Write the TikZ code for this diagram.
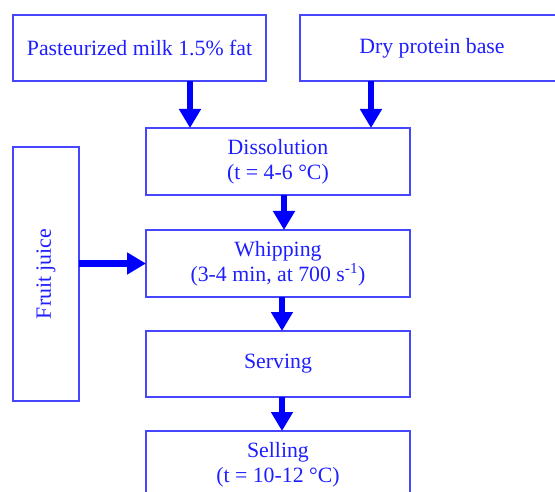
\documentclass[tikz,border=0pt]{standalone}
\usepackage{fontspec}
\setmainfont{Liberation Serif}
\usepackage{graphicx}
\usetikzlibrary{arrows.meta}
\definecolor{txtblue}{RGB}{30,30,255}
\definecolor{boxblue}{RGB}{70,70,255}
\definecolor{arrblue}{RGB}{0,0,255}
\tikzset{
  stepbox/.style={draw=boxblue, line width=1.5pt, text=txtblue, align=center,
    inner sep=0pt, outer sep=0pt, font=\fontsize{21.8pt}{25pt}\selectfont},
  flowarr/.style={draw=arrblue, line width=6.5pt,
    -{Triangle[width=21pt,length=19pt]}}
}
\begin{document}
\begin{tikzpicture}[x=1pt,y=-1pt]
\useasboundingbox (0,0) rectangle (555,492);
\clip (0,0) rectangle (555,492);
\node[stepbox, minimum width=253pt, minimum height=66pt] (milk) at (139.5,48) {Pasteurized milk 1.5\% fat};
\node[stepbox, minimum width=264pt, minimum height=66pt] (dry) at (432,48) {Dry protein base};
\node[stepbox, minimum width=264pt, minimum height=67pt] (diss) at (278,161.5) {Dissolution\\(t = 4-6 °C)};
\node[stepbox, minimum width=264pt, minimum height=67pt] (whip) at (278,263.5) {Whipping\\(3-4 min, at 700 s\textsuperscript{-1})};
\node[stepbox, minimum width=264pt, minimum height=66pt] (serv) at (278,364) {Serving};
\node[stepbox, minimum width=264pt, minimum height=67pt] (sell) at (278,464.5) {Selling\\(t = 10-12 °C)};
\node[stepbox, minimum width=66pt, minimum height=254pt] (fruit) at (46,274) {\rotatebox{90}{Fruit juice}};
\coordinate (c1) at (190,0);
\coordinate (c2) at (371,0);
\coordinate (c3) at (284,0);
\coordinate (c4) at (282,0);
\draw[flowarr] (milk.south -| c1) -- (diss.north -| c1);
\draw[flowarr] (dry.south -| c2) -- (diss.north -| c2);
\draw[flowarr] (diss.south -| c3) -- (whip.north -| c3);
\draw[flowarr] (whip.south -| c4) -- (serv.north -| c4);
\draw[flowarr] (serv.south -| c4) -- (sell.north -| c4);
\draw[flowarr] (fruit.east |- whip.west) -- (whip.west);
\end{tikzpicture}
\end{document}
